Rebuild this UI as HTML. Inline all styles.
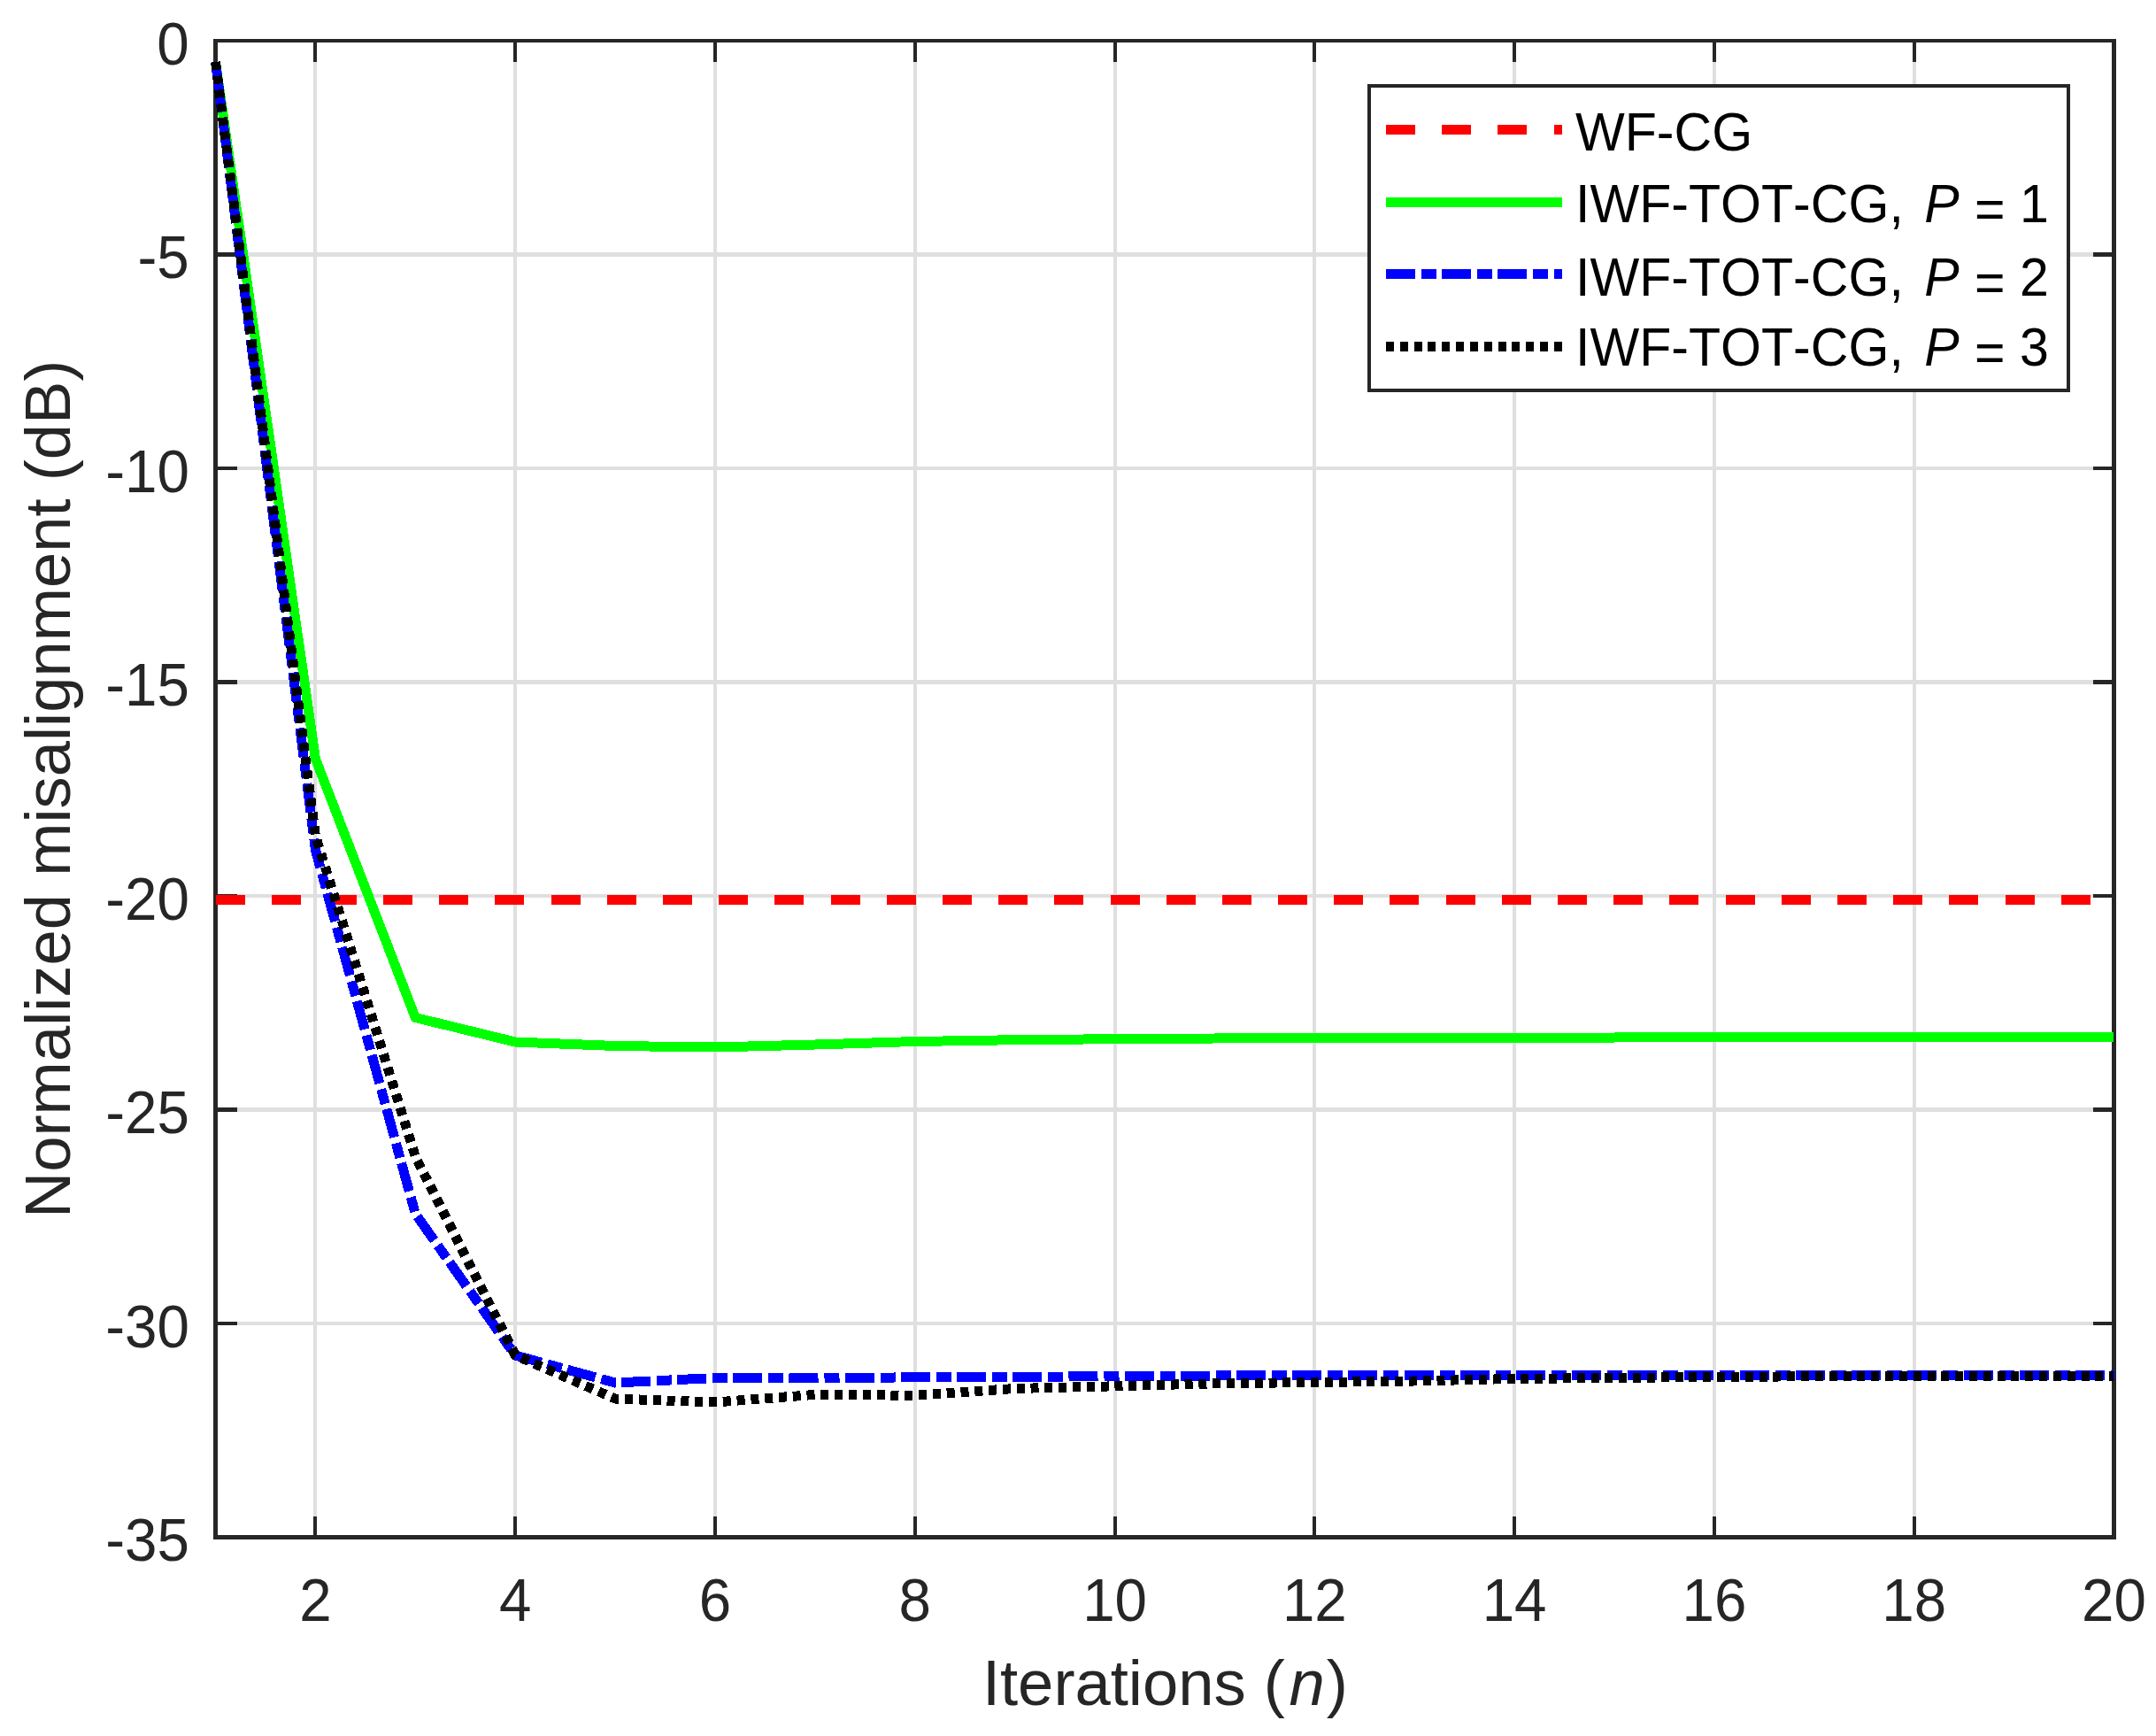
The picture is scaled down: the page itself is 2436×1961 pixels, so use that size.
<!DOCTYPE html>
<html lang="en"><head><meta charset="utf-8"><title>Normalized misalignment vs. iterations</title>
<style>
html,body{margin:0;padding:0;background:#fff;}
body{width:2436px;height:1961px;overflow:hidden;}
svg{display:block;}
text{font-family:"Liberation Sans",sans-serif;font-kerning:none;font-variant-ligatures:none;}
.tk{font-size:65.5px;fill:#262626;}
.lb{font-size:72.4px;fill:#262626;}
.lg{font-size:59.1px;fill:#000;}
.it{font-style:italic;}
</style></head><body>
<svg width="2436" height="1961" viewBox="0 0 2436 1961" shape-rendering="crispEdges">
<rect x="0" y="0" width="2436" height="1961" fill="#fff"/>
<g stroke="#dfdfdf" stroke-width="4.17" fill="none">
<line x1="356.4" y1="46.0" x2="356.4" y2="1736.5"/>
<line x1="582.2" y1="46.0" x2="582.2" y2="1736.5"/>
<line x1="808.0" y1="46.0" x2="808.0" y2="1736.5"/>
<line x1="1033.8" y1="46.0" x2="1033.8" y2="1736.5"/>
<line x1="1259.6" y1="46.0" x2="1259.6" y2="1736.5"/>
<line x1="1485.3" y1="46.0" x2="1485.3" y2="1736.5"/>
<line x1="1711.1" y1="46.0" x2="1711.1" y2="1736.5"/>
<line x1="1936.9" y1="46.0" x2="1936.9" y2="1736.5"/>
<line x1="2162.7" y1="46.0" x2="2162.7" y2="1736.5"/>
<line x1="243.5" y1="287.5" x2="2388.5" y2="287.5"/>
<line x1="243.5" y1="529.0" x2="2388.5" y2="529.0"/>
<line x1="243.5" y1="770.5" x2="2388.5" y2="770.5"/>
<line x1="243.5" y1="1012.0" x2="2388.5" y2="1012.0"/>
<line x1="243.5" y1="1253.5" x2="2388.5" y2="1253.5"/>
<line x1="243.5" y1="1495.0" x2="2388.5" y2="1495.0"/>
</g>
<g stroke="#262626" stroke-width="4.17" fill="none">
<rect x="243.5" y="46.0" width="2145.0" height="1690.5"/>
</g>
<g stroke="#262626" stroke-width="4.17" fill="none">
<line x1="356.4" y1="1736.5" x2="356.4" y2="1712.5"/>
<line x1="356.4" y1="46.0" x2="356.4" y2="70.0"/>
<line x1="582.2" y1="1736.5" x2="582.2" y2="1712.5"/>
<line x1="582.2" y1="46.0" x2="582.2" y2="70.0"/>
<line x1="808.0" y1="1736.5" x2="808.0" y2="1712.5"/>
<line x1="808.0" y1="46.0" x2="808.0" y2="70.0"/>
<line x1="1033.8" y1="1736.5" x2="1033.8" y2="1712.5"/>
<line x1="1033.8" y1="46.0" x2="1033.8" y2="70.0"/>
<line x1="1259.6" y1="1736.5" x2="1259.6" y2="1712.5"/>
<line x1="1259.6" y1="46.0" x2="1259.6" y2="70.0"/>
<line x1="1485.3" y1="1736.5" x2="1485.3" y2="1712.5"/>
<line x1="1485.3" y1="46.0" x2="1485.3" y2="70.0"/>
<line x1="1711.1" y1="1736.5" x2="1711.1" y2="1712.5"/>
<line x1="1711.1" y1="46.0" x2="1711.1" y2="70.0"/>
<line x1="1936.9" y1="1736.5" x2="1936.9" y2="1712.5"/>
<line x1="1936.9" y1="46.0" x2="1936.9" y2="70.0"/>
<line x1="2162.7" y1="1736.5" x2="2162.7" y2="1712.5"/>
<line x1="2162.7" y1="46.0" x2="2162.7" y2="70.0"/>
<line x1="243.5" y1="287.5" x2="267.5" y2="287.5"/>
<line x1="2388.5" y1="287.5" x2="2364.5" y2="287.5"/>
<line x1="243.5" y1="529.0" x2="267.5" y2="529.0"/>
<line x1="2388.5" y1="529.0" x2="2364.5" y2="529.0"/>
<line x1="243.5" y1="770.5" x2="267.5" y2="770.5"/>
<line x1="2388.5" y1="770.5" x2="2364.5" y2="770.5"/>
<line x1="243.5" y1="1012.0" x2="267.5" y2="1012.0"/>
<line x1="2388.5" y1="1012.0" x2="2364.5" y2="1012.0"/>
<line x1="243.5" y1="1253.5" x2="267.5" y2="1253.5"/>
<line x1="2388.5" y1="1253.5" x2="2364.5" y2="1253.5"/>
<line x1="243.5" y1="1495.0" x2="267.5" y2="1495.0"/>
<line x1="2388.5" y1="1495.0" x2="2364.5" y2="1495.0"/>
</g>
<g fill="none" stroke-width="11.0" stroke-linejoin="miter" stroke-linecap="butt">
<line x1="243.5" y1="1016.4" x2="2388.5" y2="1016.4" stroke="#ff0000" stroke-dasharray="33 30.19"/>
<polyline points="243.5,70.0 356.4,857.0 469.3,1149.5 582.2,1177.0 695.1,1181.5 808.0,1183.0 920.9,1180.0 1033.8,1176.5 1146.7,1174.7 1259.6,1173.7 1372.4,1173.0 1485.3,1172.5 1598.2,1172.3 1711.1,1172.1 1824.0,1172.0 1936.9,1171.9 2049.8,1171.8 2162.7,1171.7 2275.6,1171.6 2388.5,1171.5" stroke="#00ff00"/>
<polyline points="243.5,70.0 356.4,960.0 469.3,1371.0 582.2,1531.0 695.1,1562.0 808.0,1556.5 920.9,1556.8 1033.8,1555.8 1146.7,1555.3 1259.6,1554.7 1372.4,1554.0 1485.3,1553.5 1598.2,1553.3 1711.1,1553.3 1824.0,1553.3 1936.9,1553.3 2049.8,1553.3 2162.7,1553.3 2275.6,1553.3 2388.5,1553.3" stroke="#0000ff" stroke-dasharray="33 7 17 6.2"/>
<polyline points="243.5,70.0 356.4,944.0 469.3,1306.5 582.2,1531.0 695.1,1580.0 808.0,1584.0 920.9,1575.4 1033.8,1576.2 1146.7,1568.5 1259.6,1565.8 1372.4,1562.8 1485.3,1561.5 1598.2,1560.0 1711.1,1557.5 1824.0,1556.5 1936.9,1555.4 2049.8,1554.8 2162.7,1554.3 2275.6,1554.1 2388.5,1554.0" stroke="#000000" stroke-dasharray="9 6.83"/>
</g>
<rect x="1547.0" y="97.0" width="790.0" height="344.0" fill="#fff" stroke="#262626" stroke-width="4.17"/>
<g fill="none" stroke-width="11.0">
<line x1="1566.0" y1="146.4" x2="1765.2" y2="146.4" stroke="#ff0000" stroke-dasharray="33 30.2"/>
<line x1="1566.0" y1="228.2" x2="1765.2" y2="228.2" stroke="#00ff00"/>
<line x1="1566.0" y1="309.4" x2="1765.2" y2="309.4" stroke="#0000ff" stroke-dasharray="33 7 17 6.2"/>
<line x1="1566.0" y1="391.4" x2="1765.2" y2="391.4" stroke="#000000" stroke-dasharray="9 6.83"/>
</g>
<text class="lg" transform="translate(1780.0 169.6) scale(1 1.037)">WF-CG</text>
<text class="lg" transform="translate(1780.0 251.0) scale(1 1.037)">IWF-TOT-CG, <tspan class="it" dx="7">P</tspan><tspan dx="1" dy="6"> =</tspan><tspan dy="-6"> 1</tspan></text>
<text class="lg" transform="translate(1780.0 334.0) scale(1 1.037)">IWF-TOT-CG, <tspan class="it" dx="7">P</tspan><tspan dx="1" dy="6"> =</tspan><tspan dy="-6"> 2</tspan></text>
<text class="lg" transform="translate(1780.0 413.1) scale(1 1.037)">IWF-TOT-CG, <tspan class="it" dx="7">P</tspan><tspan dx="1" dy="6"> =</tspan><tspan dy="-6"> 3</tspan></text>
<text class="tk" transform="translate(356.4 1830.6) scale(1 1.042)" text-anchor="middle">2</text>
<text class="tk" transform="translate(582.2 1830.6) scale(1 1.042)" text-anchor="middle">4</text>
<text class="tk" transform="translate(808.0 1830.6) scale(1 1.042)" text-anchor="middle">6</text>
<text class="tk" transform="translate(1033.8 1830.6) scale(1 1.042)" text-anchor="middle">8</text>
<text class="tk" transform="translate(1259.6 1830.6) scale(1 1.042)" text-anchor="middle">10</text>
<text class="tk" transform="translate(1485.3 1830.6) scale(1 1.042)" text-anchor="middle">12</text>
<text class="tk" transform="translate(1711.1 1830.6) scale(1 1.042)" text-anchor="middle">14</text>
<text class="tk" transform="translate(1936.9 1830.6) scale(1 1.042)" text-anchor="middle">16</text>
<text class="tk" transform="translate(2162.7 1830.6) scale(1 1.042)" text-anchor="middle">18</text>
<text class="tk" transform="translate(2388.5 1830.6) scale(1 1.042)" text-anchor="middle">20</text>
<text class="tk" transform="translate(213.8 72.8) scale(1 1.042)" text-anchor="end">0</text>
<text class="tk" transform="translate(213.8 314.3) scale(1 1.042)" text-anchor="end">-5</text>
<text class="tk" transform="translate(213.8 555.8) scale(1 1.042)" text-anchor="end">-10</text>
<text class="tk" transform="translate(213.8 797.3) scale(1 1.042)" text-anchor="end">-15</text>
<text class="tk" transform="translate(213.8 1038.8) scale(1 1.042)" text-anchor="end">-20</text>
<text class="tk" transform="translate(213.8 1280.3) scale(1 1.042)" text-anchor="end">-25</text>
<text class="tk" transform="translate(213.8 1521.8) scale(1 1.042)" text-anchor="end">-30</text>
<text class="tk" transform="translate(213.8 1763.3) scale(1 1.042)" text-anchor="end">-35</text>
<text class="lb" transform="translate(1109.9 1925.7)">Iterations (<tspan class="it" dx="4.5">n</tspan><tspan dx="2">)</tspan></text>
<text class="lb" transform="translate(78.9 891.3) rotate(-90)" text-anchor="middle">Normalized misalignment (dB)</text>
</svg>
</body></html>
